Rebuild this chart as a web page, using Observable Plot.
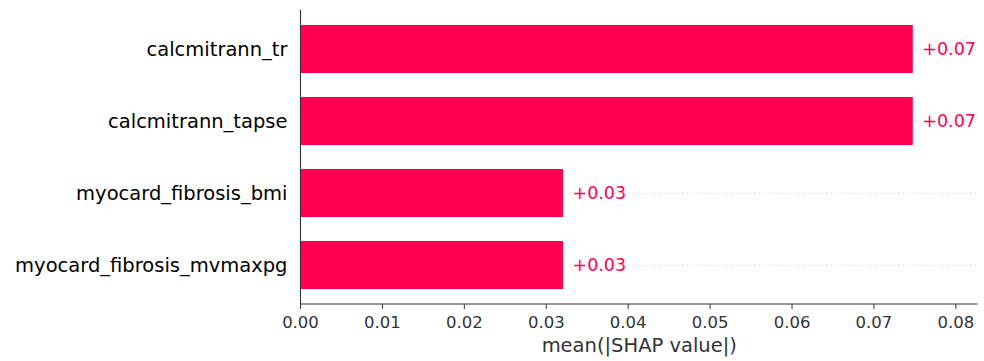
<!DOCTYPE html>
<html>
<head>
<meta charset="utf-8">
<script src="https://cdn.jsdelivr.net/npm/d3@7"></script>
<script src="https://cdn.jsdelivr.net/npm/@observablehq/plot@0.6"></script>
<style>
  html, body { margin: 0; padding: 0; background: #fff; }
  #chart svg { display: block; }
</style>
</head>
<body>
<div id="chart"></div>
<script>
// Mean absolute SHAP value per feature, largest first
const features = [
  "calcmitrann_tr",
  "calcmitrann_tapse",
  "myocard_fibrosis_bmi",
  "myocard_fibrosis_mvmaxpg"
];
const meanAbsShap = [0.0748, 0.0748, 0.0321, 0.0321];
const xTicks = [0, 0.01, 0.02, 0.03, 0.04, 0.05, 0.06, 0.07, 0.08];
const xLabel = "mean(|SHAP value|)";

const rows = features.map((f, i) => ({feature: f, value: meanAbsShap[i]}));

const W = 984, H = 361;
const M = {top: 10, right: 6.5, bottom: 57, left: 300};
const RED = "#ff0051";
const X_MAX = 0.0827;

const chart = Plot.plot({
  width: W,
  height: H,
  marginTop: M.top,
  marginRight: M.right,
  marginBottom: M.bottom,
  marginLeft: M.left,
  style: {fontFamily: "DejaVu Sans, sans-serif", background: "#fff"},
  x: {domain: [0, X_MAX]},
  y: {domain: features, paddingInner: 0.328, paddingOuter: 0.197},
  marks: [
    // faint dotted guide at each feature row, behind the bars
    Plot.ruleY(rows, {
      y: "feature", x1: 0, x2: X_MAX,
      stroke: "#999999", strokeWidth: 0.75, strokeDasharray: "0.75,3.75"
    }),
    Plot.barX(rows, {x: "value", y: "feature", fill: RED}),
    Plot.text(rows, {
      x: "value", y: "feature",
      text: d => "+" + d.value.toFixed(2),
      dx: 9, textAnchor: "start", fill: RED, fontSize: 17.5
    }),
    // left spine
    Plot.ruleX([0], {stroke: "#333333", strokeWidth: 1.1}),
    Plot.axisY({
      tickSize: 0, tickPadding: 13, fontSize: 19.5, label: null, color: "#000"
    }),
    Plot.axisX({
      ticks: xTicks, tickFormat: d3.format(".2f"),
      tickSize: 5, tickPadding: 7, fontSize: 16.5, color: "#333333",
      label: null
    }),
    Plot.axisX({
      ticks: [], label: xLabel, labelAnchor: "center", labelArrow: "none",
      labelOffset: 47, fontSize: 19.5, color: "#333333"
    })
  ]
});

// bottom spine along the x axis
d3.select(chart).append("line")
  .attr("x1", M.left).attr("x2", W - M.right)
  .attr("y1", H - M.bottom).attr("y2", H - M.bottom)
  .attr("stroke", "#333333").attr("stroke-width", 1.1);

document.getElementById("chart").appendChild(chart);
</script>
</body>
</html>
